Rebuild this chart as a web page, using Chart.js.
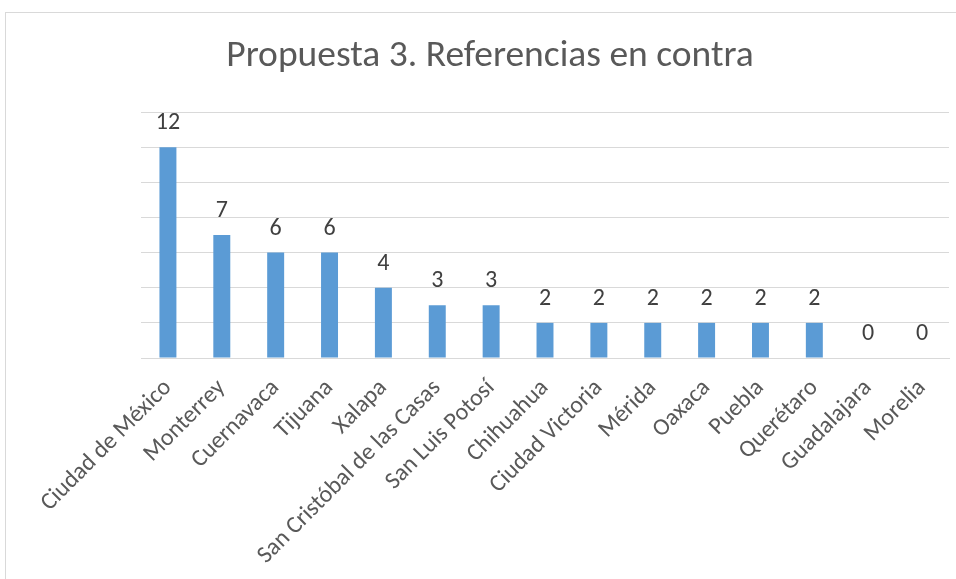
<!DOCTYPE html>
<html>
<head>
<meta charset="utf-8">
<script src="https://cdn.jsdelivr.net/npm/chart.js@4"></script>
<style>
  html, body { margin: 0; padding: 0; width: 956px; height: 579px; overflow: hidden; background: #fff; }
  #frame { position: absolute; left: 5px; top: 12px; width: 1000px; height: 600px; border: 1px solid #d9d9d9; box-sizing: border-box; }
  #wrap { position: absolute; left: 0; top: 0; width: 980px; height: 579px; }
</style>
</head>
<body>
<div id="frame"></div>
<div id="wrap"><canvas id="c" width="980" height="579"></canvas></div>
<script>
const titleText = "Propuesta 3. Referencias en contra";
const categories = ["Ciudad de México", "Monterrey", "Cuernavaca", "Tijuana", "Xalapa", "San Cristóbal de las Casas", "San Luis Potosí", "Chihuahua", "Ciudad Victoria", "Mérida", "Oaxaca", "Puebla", "Querétaro", "Guadalajara", "Morelia"];
const values = [12, 7, 6, 6, 4, 3, 3, 2, 2, 2, 2, 2, 2, 0, 0];
const yMin = 0, yMax = 14, yStep = 2;

const FONT = "Carlito, Lato, 'Open Sans', sans-serif";

const valueLabels = {
  id: 'valueLabels',
  afterDatasetsDraw(chart) {
    const ctx = chart.ctx;
    const meta = chart.getDatasetMeta(0);
    ctx.save();
    ctx.font = "24px " + FONT;
    ctx.fillStyle = "#404040";
    ctx.textAlign = "center";
    ctx.textBaseline = "alphabetic";
    meta.data.forEach((bar, i) => {
      ctx.fillText(String(values[i]), bar.x, bar.y - 18);
    });
    ctx.restore();
  }
};

new Chart(document.getElementById('c'), {
  type: 'bar',
  data: {
    labels: categories,
    datasets: [{
      data: values,
      backgroundColor: '#5B9BD5',
      borderWidth: 0,
      categoryPercentage: 1,
      barPercentage: 0.315
    }]
  },
  options: {
    responsive: false,
    animation: false,
    events: [],
    layout: { padding: { left: 31, right: 31, top: 0, bottom: 0 } },
    plugins: {
      legend: { display: false },
      tooltip: { enabled: false },
      title: {
        display: true,
        text: titleText,
        color: '#595959',
        font: { family: FONT, size: 37.5, weight: 'normal', lineHeight: 1.2 },
        padding: { top: 34, bottom: 33 }
      }
    },
    scales: {
      x: {
        grid: { display: false },
        border: { display: true, color: '#d9d9d9', width: 1 },
        ticks: {
          color: '#595959',
          font: { family: FONT, size: 24 },
          minRotation: 45,
          maxRotation: 45,
          autoSkip: false,
          padding: 8
        },
        afterFit(scale) { scale.height = 221; }
      },
      y: {
        min: yMin,
        max: yMax,
        ticks: { display: false, stepSize: yStep },
        grid: { color: '#d9d9d9', lineWidth: 1, drawTicks: false },
        border: { display: false },
        afterFit(scale) { scale.width = 110; }
      }
    }
  },
  plugins: [valueLabels]
});
</script>
</body>
</html>
